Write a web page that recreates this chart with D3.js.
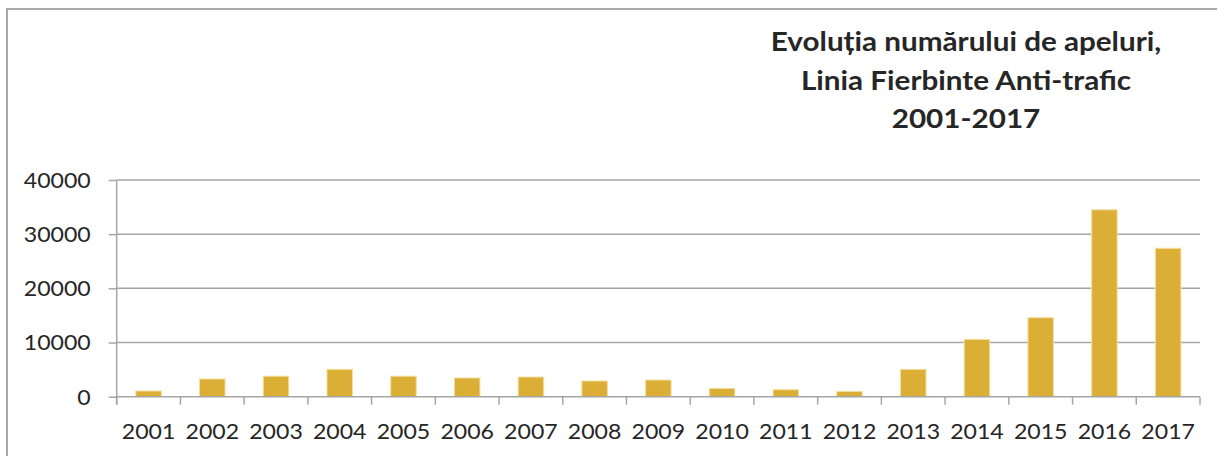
<!DOCTYPE html>
<html>
<head>
<meta charset="utf-8">
<script src="https://cdn.jsdelivr.net/npm/d3@7"></script>
<style>
  html, body { margin: 0; padding: 0; background: #fff; }
  svg { display: block; }
  text { font-family: Lato, "Open Sans", sans-serif; fill: #262626; }
</style>
</head>
<body>
<svg id="chart" width="1217" height="456"></svg>
<script>
const categories = ["2001","2002","2003","2004","2005","2006","2007","2008","2009","2010","2011","2012","2013","2014","2015","2016","2017"];
const calls = [1050, 3270, 3780, 5050, 3780, 3450, 3630, 2900, 3080, 1530, 1290, 980, 5040, 10570, 14580, 34500, 27400];
const yTicks = [0, 10000, 20000, 30000, 40000];
const titleLines = ["Evoluția numărului de apeluri,", "Linia Fierbinte Anti-trafic", "2001-2017"];

const svg = d3.select("#chart");
const W = 1217, H = 456;
const plot = { left: 116.7, right: 1200, top: 180, bottom: 396.7 };
const labelScaleX = 1.1;
const titleScaleX = 1.14;
const gridColor = "#a6a6a6";

// frame
svg.append("path")
  .attr("d", `M7,${H} L7,9 L${W},9`)
  .attr("fill", "none").attr("stroke", "#a9a9a9").attr("stroke-width", 2);

const x = d3.scaleBand().domain(categories).range([plot.left, plot.right])
  .paddingInner(0.6).paddingOuter(0.3);
const y = d3.scaleLinear().domain([0, 40000]).range([plot.bottom, plot.top]);

// gridlines
svg.append("g").selectAll("line").data(yTicks.filter(d => d > 0)).join("line")
  .attr("x1", plot.left).attr("x2", plot.right)
  .attr("y1", d => y(d)).attr("y2", d => y(d))
  .attr("stroke", gridColor).attr("stroke-width", 1.5);

// bars
svg.append("g").selectAll("rect").data(categories).join("rect")
  .attr("x", d => x(d))
  .attr("width", x.bandwidth())
  .attr("y", (d, i) => y(calls[i]))
  .attr("height", (d, i) => y(0) - y(calls[i]))
  .attr("fill", "#dbae35")
  .attr("stroke", "#f3dea0").attr("stroke-width", 1);

// y axis
const yAxis = svg.append("g").attr("transform", `translate(${plot.left},0)`)
  .call(d3.axisLeft(y).tickValues(yTicks).tickSize(8).tickSizeOuter(0).tickFormat(d3.format("d")));
yAxis.select(".domain").attr("stroke", gridColor).attr("stroke-width", 1.5)
  .attr("d", `M0,${plot.top}V${plot.bottom + 8}`);
yAxis.selectAll(".tick line").attr("stroke", gridColor).attr("stroke-width", 1.5);
yAxis.selectAll(".tick text")
  .attr("x", -26 / labelScaleX).attr("dy", "0.35em")
  .attr("transform", `scale(${labelScaleX},1)`)
  .style("font-size", "21px").style("fill", "#262626");

// x axis
const step = x.step(), gap = step - x.bandwidth();
const bounds = categories.map(d => x(d) - gap / 2).concat([x(categories[categories.length - 1]) + x.bandwidth() + gap / 2]);
const xg = svg.append("g");
xg.append("line").attr("x1", plot.left).attr("x2", plot.right)
  .attr("y1", plot.bottom).attr("y2", plot.bottom)
  .attr("stroke", gridColor).attr("stroke-width", 1.5);
xg.selectAll(".xt").data(bounds).join("line").attr("class", "xt")
  .attr("x1", d => d).attr("x2", d => d)
  .attr("y1", plot.bottom).attr("y2", plot.bottom + 8)
  .attr("stroke", gridColor).attr("stroke-width", 1.5);
xg.selectAll(".xl").data(categories).join("text").attr("class", "xl")
  .attr("transform", d => `translate(${x(d) + x.bandwidth() / 2},439) scale(${labelScaleX},1)`)
  .attr("text-anchor", "middle")
  .style("font-size", "21px")
  .text(d => d);

// title
const tg = svg.append("g");
tg.selectAll("text").data(titleLines).join("text")
  .attr("transform", (d, i) => `translate(966,${51 + i * 38.5}) scale(${titleScaleX},1)`)
  .attr("text-anchor", "middle")
  .style("font-size", "26px").style("font-weight", "bold")
  .text(d => d);
</script>
</body>
</html>
